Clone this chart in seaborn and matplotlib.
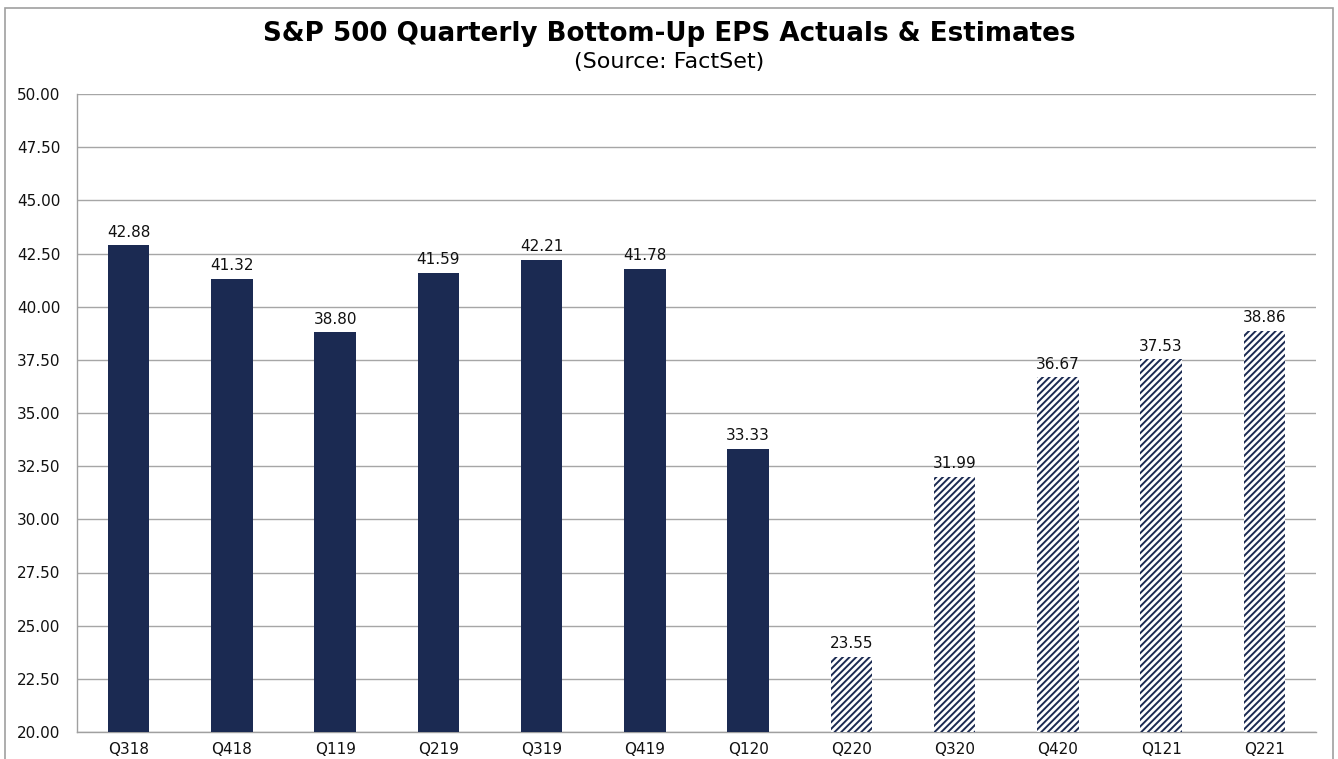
import matplotlib
matplotlib.use("Agg")
import matplotlib.pyplot as plt
import seaborn as sns
import pandas as pd
from matplotlib.patches import Rectangle

quarters = ["Q318", "Q418", "Q119", "Q219", "Q319", "Q419", "Q120",
            "Q220", "Q320", "Q420", "Q121", "Q221"]
eps = [42.88, 41.32, 38.80, 41.59, 42.21, 41.78, 33.33,
       23.55, 31.99, 36.67, 37.53, 38.86]
kind = ["Actual"] * 7 + ["Estimate"] * 5
yticks = [20.0, 22.5, 25.0, 27.5, 30.0, 32.5, 35.0, 37.5, 40.0, 42.5, 45.0, 47.5, 50.0]

navy = "#1B2A52"

sns.set_theme(style="white")
plt.rcParams["font.family"] = ["DejaVu Sans"]
plt.rcParams["hatch.linewidth"] = 1.4
plt.rcParams["hatch.color"] = navy

df = pd.DataFrame({"quarter": quarters, "eps": eps, "kind": kind})

fig = plt.figure(figsize=(13.38, 7.59), dpi=100)
ax = fig.add_axes([77 / 1338, 1 - 732 / 759, (1316 - 77) / 1338, (732 - 94) / 759])

sns.barplot(data=df, x="quarter", y="eps", color=navy, width=0.4,
            saturation=1, ax=ax, zorder=3)

for patch, k in zip(ax.patches, kind):
    patch.set_linewidth(0)
    if k == "Estimate":
        patch.set_facecolor("white")
        patch.set_edgecolor(navy)
        patch.set_hatch("/////")

ax.set_ylim(20, 50)
ax.set_yticks(yticks)
ax.set_yticklabels([f"{v:.2f}" for v in yticks])
ax.yaxis.grid(True, color="#a6a6a6", linewidth=1.0, zorder=0)
ax.set_axisbelow(True)
ax.set_xlabel("")
ax.set_ylabel("")
ax.tick_params(axis="both", length=0, labelsize=11, colors="#111111")
ax.tick_params(axis="x", pad=7)
ax.tick_params(axis="y", pad=12)
for s in ["top", "right"]:
    ax.spines[s].set_visible(False)
for s in ["left", "bottom"]:
    ax.spines[s].set_color("#a0a0a0")
    ax.spines[s].set_linewidth(1.0)

ax.bar_label(ax.containers[0], labels=[f"{v:.2f}" for v in eps],
             padding=4, fontsize=11, color="#111111")

fig.text(0.5, 1 - 34 / 759, "S&P 500 Quarterly Bottom-Up EPS Actuals & Estimates",
         ha="center", va="center", fontsize=18.8, fontweight="bold", color="black")
fig.text(0.5, 1 - 62 / 759, "(Source: FactSet)",
         ha="center", va="center", fontsize=16, color="black")

fig.patches.append(Rectangle((5 / 1338, -0.1), (1333 - 5) / 1338, 1.1 - 8 / 759,
                             transform=fig.transFigure, fill=False,
                             edgecolor="#a0a0a0", linewidth=1.2))

fig.savefig("out.png", dpi=100, facecolor="white")
